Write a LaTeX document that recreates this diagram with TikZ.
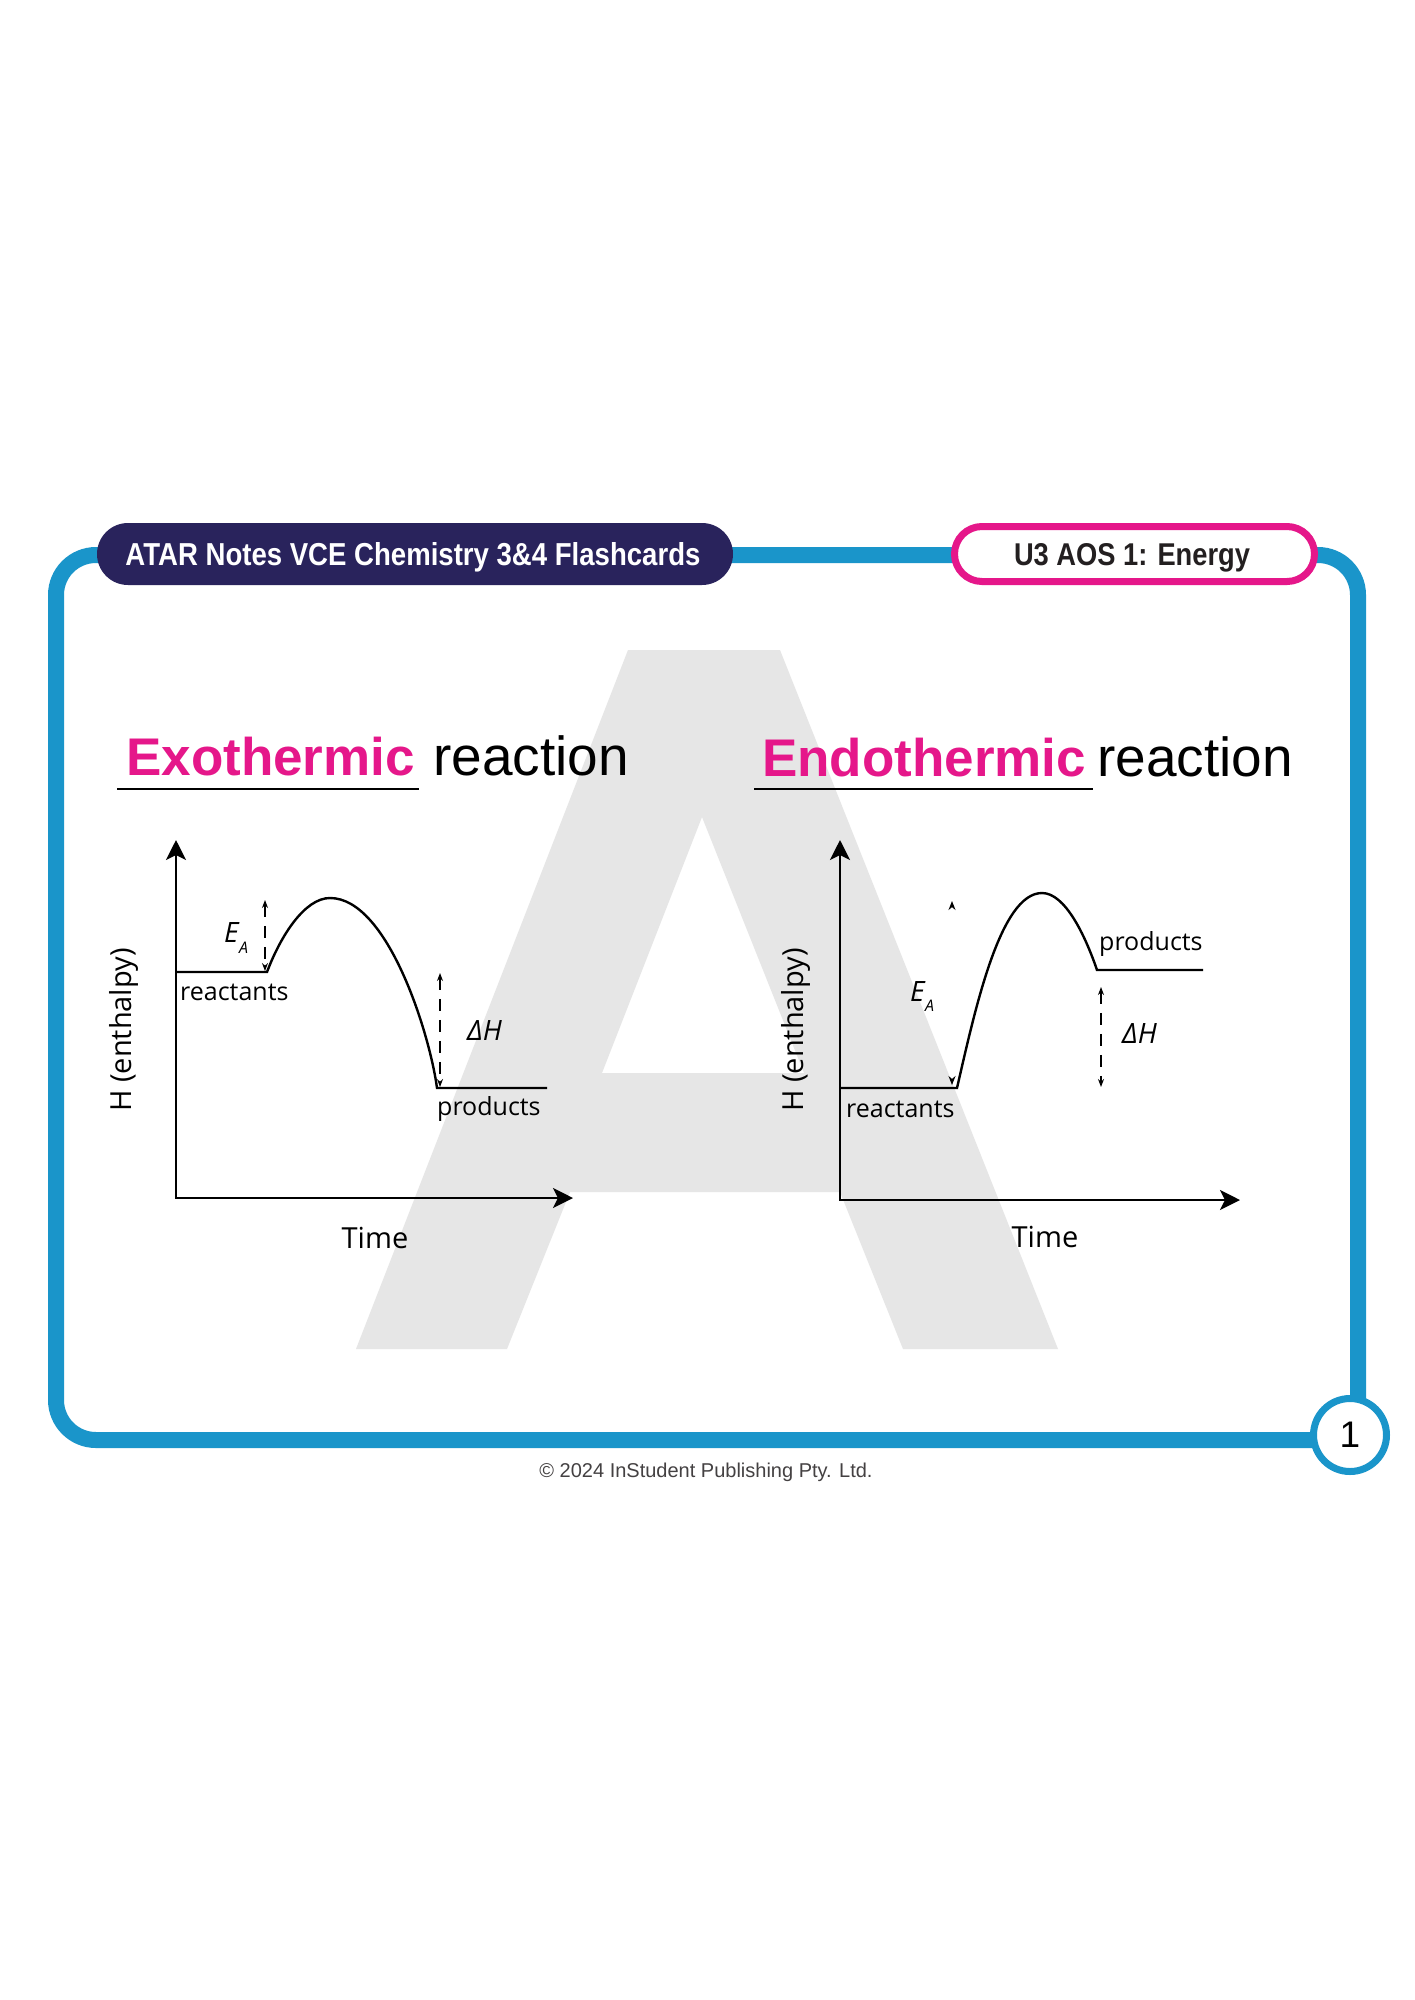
\documentclass[tikz,border=0pt]{standalone}
\usepackage{fontspec}
\usepackage{graphicx}
\setmainfont{Liberation Sans}
\newfontfamily\osans{Open Sans}
\usetikzlibrary{arrows.meta}
\definecolor{frameblue}{HTML}{1A95CA}
\definecolor{navyc}{HTML}{29235C}
\definecolor{pinkc}{HTML}{E5178A}
\definecolor{wmgray}{HTML}{E6E6E6}
\definecolor{txtdark}{HTML}{231F20}
\tikzset{
  axisline/.style={line width=2.6pt, {Stealth[length=20pt,width=20pt,inset=5pt]}-{Stealth[length=20pt,width=20pt,inset=5pt]}},
  levelline/.style={line width=2.4pt},
  dimline/.style={line width=1.2pt, dash pattern=on 12pt off 9pt, {Stealth[length=8pt,width=6pt]}-{Stealth[length=8pt,width=6pt]}},
  headonly/.style={line width=1.2pt, -{Stealth[length=9pt,width=7pt]}},
  lbl/.style={font=\osans\fontsize{25}{30}\selectfont, inner sep=0, anchor=base west},
  axlbl/.style={font=\osans\fontsize{29}{34}\selectfont, inner sep=0},
  elbl/.style={font=\osans\itshape\fontsize{28}{30}\selectfont, inner sep=0, anchor=base west},
  sublbl/.style={font=\osans\itshape\fontsize{16}{18}\selectfont, inner sep=0, anchor=base west},
  titlebold/.style={font=\bfseries\fontsize{53}{60}\selectfont, text=pinkc, inner sep=0, anchor=base west},
  titlereg/.style={font=\fontsize{55}{60}\selectfont, inner sep=0, anchor=base west},
}
\begin{document}
\begin{tikzpicture}[x=1pt,y=-1pt]
\useasboundingbox (0,0) rectangle (1414,2000);
\fill[white] (0,0) rectangle (1414,2000);

% watermark A
\fill[wmgray, even odd rule] (356,1349) -- (628,650) -- (780,650) -- (1058,1349) -- (903,1349) -- (840,1192) -- (570,1192) -- (507,1349) -- cycle
  (702,817) -- (804,1073) -- (602,1073) -- cycle;

% frame
\draw[frameblue, line width=16pt, rounded corners=40pt] (56,555) rectangle (1358,1440);

% header badges
\node[fill=navyc, rounded corners=31pt, minimum width=636pt, minimum height=62pt, inner sep=0] (hdr) at (415,554) {};
\node[anchor=base, inner sep=0, text=white, font=\bfseries] (hdrtxt) at (413,565) {\resizebox{575pt}{23pt}{ATAR Notes VCE Chemistry 3\&4 Flashcards}};
\node[draw=pinkc, line width=7pt, fill=white, rounded corners=27.5pt, minimum width=360pt, minimum height=55pt, inner sep=0] (topic) at (1134.5,554) {};
\node[anchor=base, inner sep=0, text=txtdark, font=\bfseries] (topictxt) at (1132,565) {\resizebox{236pt}{22pt}{U3 AOS 1: Energy}};

% page number circle
\node[circle, draw=frameblue, line width=7pt, fill=white, minimum size=73pt, inner sep=0, font=\fontsize{37}{40}\selectfont] (pg) at (1350,1435) {1};

% copyright
\node[font=\fontsize{20}{22}\selectfont, text=txtdark!85, inner sep=0] (copy) at (706,1472) {© 2024 InStudent Publishing Pty. Ltd.};

% titles
\node[titlebold] (exo) at (126,775) {Exothermic};
\node[titlereg] (exor) at (433,775) {reaction};
\coordinate (ul1a) at (117,789);
\coordinate (ul1b) at (419,789);
\draw[line width=2.5pt] (ul1a) -- (ul1b);
\node[titlebold] (endo) at (762,776) {Endothermic};
\node[titlereg] (endor) at (1097,776) {reaction};
\coordinate (ul2a) at (754,789);
\coordinate (ul2b) at (1093,789);
\draw[line width=2.5pt] (ul2a) -- (ul2b);

% ===== Exothermic graph =====
\coordinate (o1) at (176,1198);
\coordinate (y1) at (176,840);
\coordinate (x1) at (573,1198);
\draw[axisline] (y1) -- (o1) -- (x1);
\coordinate (r1a) at (176,972);
\coordinate (r1b) at (267,972);
\coordinate (pk1) at (330,898);
\coordinate (q1a) at (437,1088);
\coordinate (q1b) at (547,1088);
\draw[levelline] (r1a) -- (r1b) .. controls (281,935) and (305,898) .. (pk1) .. controls (388,898) and (430,1035) .. (q1a) -- (q1b);
\coordinate (ea1t) at (265,900);
\coordinate (ea1b) at (265,971);
\draw[dimline] (ea1t) -- (ea1b);
\coordinate (dh1t) at (440,973);
\coordinate (dh1b) at (440,1087);
\draw[dimline] (dh1t) -- (dh1b);
\node[lbl] (react1) at (180,1000) {reactants};
\node[lbl] (prod1) at (437,1115) {products};
\node[elbl] (E1) at (224,942) {E};
\node[sublbl] (A1) at (239,953) {A};
\node[elbl] (dH1) at (467,1040) {ΔH};
\node[axlbl, rotate=90] (H1) at (124,1030) {H (enthalpy)};
\node[axlbl] (t1) at (375,1238) {Time};

% ===== Endothermic graph =====
\coordinate (o2) at (840,1200);
\coordinate (y2) at (840,840);
\coordinate (x2) at (1240,1200);
\draw[axisline] (y2) -- (o2) -- (x2);
\coordinate (r2a) at (840,1088);
\coordinate (r2b) at (957,1088);
\coordinate (pk2) at (1042,893);
\coordinate (q2a) at (1097,970);
\coordinate (q2b) at (1203,970);
\draw[levelline] (r2a) -- (r2b) .. controls (975,1010) and (1000,893) .. (pk2) .. controls (1065,893) and (1085,935) .. (q2a) -- (q2b);
\coordinate (ea2t) at (952,901);
\coordinate (ea2ts) at (952,906);
\coordinate (ea2b) at (952,1085);
\coordinate (ea2bs) at (952,1080);
\draw[headonly] (ea2ts) -- (ea2t);
\draw[headonly] (ea2bs) -- (ea2b);
\coordinate (dh2t) at (1101,987);
\coordinate (dh2b) at (1101,1087);
\draw[dimline] (dh2t) -- (dh2b);
\node[lbl] (react2) at (846,1117) {reactants};
\node[lbl] (prod2) at (1099,950) {products};
\node[elbl] (E2) at (910,1001) {E};
\node[sublbl] (A2) at (925,1011) {A};
\node[elbl] (dH2) at (1122,1043) {ΔH};
\node[axlbl, rotate=90] (H2) at (796,1030) {H (enthalpy)};
\node[axlbl] (t2) at (1045,1237) {Time};
\end{tikzpicture}
\end{document}
